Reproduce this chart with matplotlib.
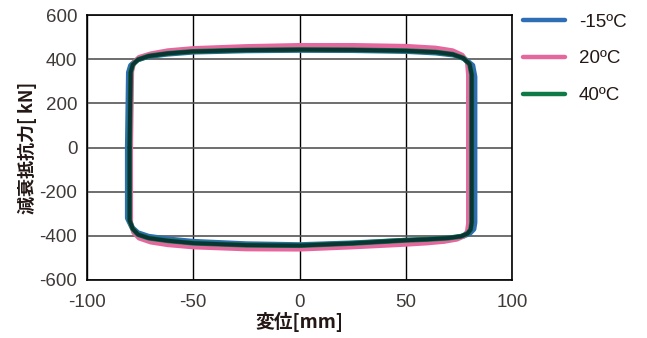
import matplotlib
matplotlib.use("Agg")
import matplotlib.pyplot as plt
from matplotlib.lines import Line2D

plt.rcParams['font.family'] = ['Liberation Sans', 'Noto Sans CJK JP', 'DejaVu Sans']
plt.rcParams['axes.unicode_minus'] = False

# hysteresis loops, displacement [mm] vs damping force [kN]
x_m15 = [-81, -80.5, -79.5, -77, -72, -63, -50, -25, 0, 25, 50, 64, 73, 78, 81.5, 82.5,
         82.5, 82, 80, 77, 71, 60, 50, 25, 0, -25, -50, -62, -71, -76, -79, -81, -81]
y_m15 = [0, 340, 372, 394, 410, 422, 432, 438, 440, 439, 435, 428, 418, 400, 372, 320,
         -340, -370, -390, -402, -410, -416, -420, -432, -440, -436, -425, -414, -402, -386, -360, -320, 0]

x_20 = [-79.5, -79, -78, -75.5, -70, -62, -50, -25, 0, 25, 50, 64, 72, 76.5, 79, 79.5,
        79.5, 79, 77.5, 74, 68, 60, 50, 25, 0, -25, -50, -62, -70, -75.5, -78, -79.5, -79.5]
y_20 = [0, 345, 385, 408, 424, 438, 448, 457, 462, 462, 458, 450, 438, 418, 385, 330,
        -345, -380, -400, -415, -425, -432, -438, -450, -460, -459, -450, -440, -428, -410, -385, -340, 0]

x_40 = [-80, -79.5, -78.5, -76, -71, -62, -50, -25, 0, 25, 50, 64, 72, 77, 80, 81,
        81, 80.5, 79, 76, 70, 60, 50, 25, 0, -25, -50, -62, -71, -76, -78.5, -80, -80]
y_40 = [0, 340, 375, 398, 414, 426, 435, 441, 443, 442, 438, 432, 422, 405, 378, 330,
        -340, -372, -390, -402, -410, -416, -420, -434, -444, -442, -433, -422, -410, -394, -368, -330, 0]

labels = ["-15ºC", "20ºC", "40ºC"]
colors = ["#2f6db5", "#e4689e", "#0e7a45"]
dark = "#0b3535"

fig = plt.figure(figsize=(6.47, 3.38), dpi=100)
ax = fig.add_axes([0.1345, 0.1716, 0.6570, 0.7840])

kw = dict(solid_joinstyle="round", solid_capstyle="round")
ax.plot(x_m15, y_m15, color=colors[0], lw=3.6, zorder=3, **kw)
ax.plot(x_20, y_20, color=colors[1], lw=3.6, zorder=4, **kw)
ax.plot(x_40, y_40, color=colors[2], lw=3.6, zorder=5, **kw)
ax.plot(x_40, y_40, color=dark, lw=2.8, zorder=6, **kw)

ax.set_xlim(-100, 100)
ax.set_ylim(-600, 600)
ax.set_xticks([-100, -50, 0, 50, 100])
ax.set_yticks([-600, -400, -200, 0, 200, 400, 600])
ax.grid(axis="x", color="black", lw=1.0)
ax.grid(axis="y", color="#555555", lw=1.2)
ax.set_axisbelow(True)
ax.tick_params(length=0, labelsize=13.5, labelcolor="#3f3a38", pad=7)
ax.tick_params(axis="x", pad=10)
for s in ax.spines.values():
    s.set_color("black")
    s.set_linewidth(1.2)

ax.set_xlabel("変位[mm]", fontsize=13.5, fontweight="bold", color="#231815",
              family=["Noto Sans CJK JP", "DejaVu Sans"], labelpad=1)
ax.set_ylabel("減衰抵抗力[ kN]", fontsize=13, fontweight="bold", color="#231815",
              family=["Noto Sans CJK JP", "DejaVu Sans"], labelpad=2)

handles = [Line2D([], [], color=c, lw=3.2, solid_capstyle="round") for c in colors]
fig.legend(handles, labels, loc="upper left", bbox_to_anchor=(0.783, 1.01),
           frameon=False, fontsize=13.5, handlelength=2.2, handletextpad=0.75,
           labelspacing=1.05, labelcolor="#231815")

fig.savefig("out.png", dpi=100)
